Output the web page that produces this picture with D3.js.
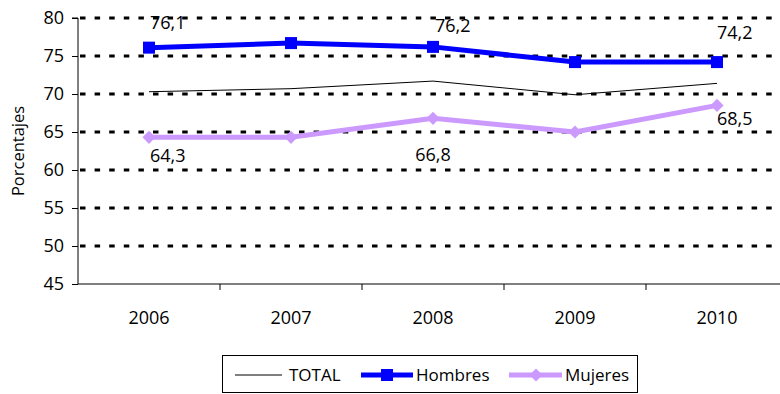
<!DOCTYPE html>
<html>
<head>
<meta charset="utf-8">
<script src="https://cdn.jsdelivr.net/npm/d3@7"></script>
<style>
  html, body { margin: 0; padding: 0; background: #fff; }
  svg { display: block; font-family: "Open Sans", "Liberation Sans", sans-serif; }
</style>
</head>
<body>
<svg id="chart" width="780" height="394"></svg>
<script>
// Categories and series (percentages)
const years = ["2006", "2007", "2008", "2009", "2010"];
const total = [70.3, 70.7, 71.7, 69.9, 71.4];
const hombres = [76.1, 76.7, 76.2, 74.2, 74.2];
const mujeres = [64.3, 64.3, 66.8, 65.0, 68.5];
const yTicks = [45, 50, 55, 60, 65, 70, 75, 80];

// Which points carry a value label, and where the label sits
const hombresLabelIdx = [0, 2, 4];
const mujeresLabelIdx = [0, 2, 4];
const hombresLabelPos = [{dx: 1, dy: -19, a: "start"}, {dx: 2, dy: -15, a: "start"}, {dx: 0, dy: -23, a: "start"}];
const mujeresLabelPos = [{dx: 1, dy: 25, a: "start"}, {dx: 0, dy: 43, a: "middle"}, {dx: 0, dy: 20, a: "start"}];

const fmt = v => v.toFixed(1).replace(".", ",");

(function () {
const svg = d3.select("#chart");
const mLeft = 78, mTop = 18, mBottom = 284, mRight = 788;
const fs = 18;

const x = d3.scaleBand().domain(years).range([mLeft, mRight]).padding(0);
const y = d3.scaleLinear().domain([45, 80]).range([mBottom, mTop]);
const cx = d => x(d) + x.bandwidth() / 2;

// Dotted horizontal gridlines
svg.append("g").selectAll("line")
  .data(yTicks.filter(t => t > 45))
  .join("line")
  .attr("x1", mLeft + 2).attr("x2", 780)
  .attr("y1", d => y(d)).attr("y2", d => y(d))
  .attr("stroke", "#000").attr("stroke-width", 3)
  .attr("stroke-dasharray", "5.5,9.1");

// Y axis
const yAxis = d3.axisLeft(y).tickValues(yTicks).tickSize(6).tickPadding(8).tickFormat(d3.format("d"));
const gy = svg.append("g").attr("transform", `translate(${mLeft},0)`).call(yAxis);
gy.select(".domain").attr("stroke", "#000").attr("d", `M-6,${mTop}H0V${mBottom}`);
gy.selectAll(".tick line").attr("stroke", "#000");
gy.selectAll(".tick text").attr("font-size", fs).attr("fill", "#000")
  .attr("font-family", "'Open Sans', sans-serif");

// X axis with ticks between categories
const gx = svg.append("g").attr("transform", `translate(0,${mBottom})`);
gx.append("line").attr("x1", mLeft).attr("x2", 780).attr("y1", 0).attr("y2", 0)
  .attr("stroke", "#000").attr("stroke-width", 1);
gx.selectAll("line.sep").data(years).join("line").attr("class", "sep")
  .attr("x1", d => x(d) + x.bandwidth()).attr("x2", d => x(d) + x.bandwidth())
  .attr("y1", 0).attr("y2", 6).attr("stroke", "#000");
gx.selectAll("text").data(years).join("text")
  .attr("x", d => cx(d)).attr("y", 40)
  .attr("text-anchor", "middle").attr("font-size", fs).attr("fill", "#000")
  .text(d => d);

// Y axis title
svg.append("text")
  .attr("transform", `translate(24,${(mTop + mBottom) / 2}) rotate(-90)`)
  .attr("text-anchor", "middle").attr("font-size", 16.5).attr("fill", "#000")
  .text("Porcentajes");

const line = d3.line().x((d, i) => cx(years[i])).y(d => y(d));

// TOTAL
svg.append("path").datum(total).attr("d", line)
  .attr("fill", "none").attr("stroke", "#000").attr("stroke-width", 1);

// Hombres
svg.append("path").datum(hombres).attr("d", line)
  .attr("fill", "none").attr("stroke", "#0000FF").attr("stroke-width", 5);
svg.append("g").selectAll("rect").data(hombres).join("rect")
  .attr("x", (d, i) => cx(years[i]) - 6).attr("y", d => y(d) - 6)
  .attr("width", 12).attr("height", 12).attr("fill", "#0000FF");

// Mujeres
svg.append("path").datum(mujeres).attr("d", line)
  .attr("fill", "none").attr("stroke", "#CC99FF").attr("stroke-width", 5);
const diamond = d3.symbol().type(d3.symbolDiamond2).size(110);
svg.append("g").selectAll("path").data(mujeres).join("path")
  .attr("transform", (d, i) => `translate(${cx(years[i])},${y(d)})`)
  .attr("d", diamond).attr("fill", "#CC99FF");

// Value labels
const labels = svg.append("g").attr("font-size", fs).attr("fill", "#000");
hombresLabelIdx.forEach((i, k) => {
  const p = hombresLabelPos[k];
  labels.append("text").attr("x", cx(years[i]) + p.dx).attr("y", y(hombres[i]) + p.dy)
    .attr("text-anchor", p.a).text(fmt(hombres[i]));
});
mujeresLabelIdx.forEach((i, k) => {
  const p = mujeresLabelPos[k];
  labels.append("text").attr("x", cx(years[i]) + p.dx).attr("y", y(mujeres[i]) + p.dy)
    .attr("text-anchor", p.a).text(fmt(mujeres[i]));
});

// Legend
const lg = svg.append("g");
lg.append("rect").attr("x", 222.5).attr("y", 355.5).attr("width", 415).attr("height", 37)
  .attr("fill", "#fff").attr("stroke", "#000").attr("stroke-width", 1);
const ly = 375;
const lfs = 17;
lg.append("line").attr("x1", 235).attr("x2", 282).attr("y1", ly).attr("y2", ly)
  .attr("stroke", "#000").attr("stroke-width", 1);
lg.append("text").attr("x", 289).attr("y", ly + 6).attr("font-size", lfs).text("TOTAL");
lg.append("line").attr("x1", 361).attr("x2", 413).attr("y1", ly).attr("y2", ly)
  .attr("stroke", "#0000FF").attr("stroke-width", 5);
lg.append("rect").attr("x", 387 - 6).attr("y", ly - 6).attr("width", 12).attr("height", 12).attr("fill", "#0000FF");
lg.append("text").attr("x", 416).attr("y", ly + 6).attr("font-size", lfs).text("Hombres");
lg.append("line").attr("x1", 509).attr("x2", 562).attr("y1", ly).attr("y2", ly)
  .attr("stroke", "#CC99FF").attr("stroke-width", 5);
lg.append("path").attr("transform", `translate(536,${ly})`).attr("d", diamond).attr("fill", "#CC99FF");
lg.append("text").attr("x", 565).attr("y", ly + 6).attr("font-size", lfs).text("Mujeres");
})();
</script>
</body>
</html>
